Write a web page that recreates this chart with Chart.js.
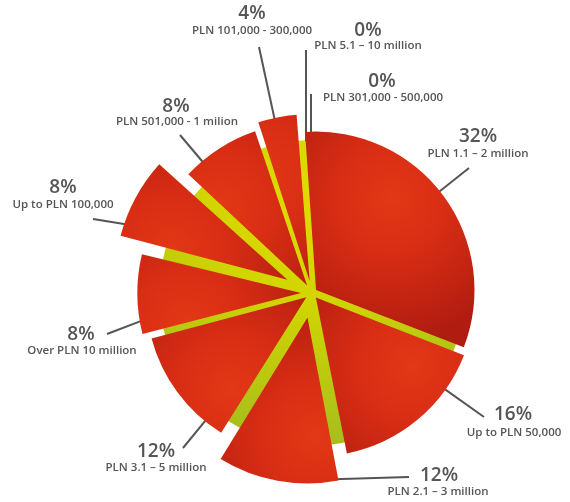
<!DOCTYPE html>
<html>
<head>
<meta charset="utf-8">
<script src="https://cdn.jsdelivr.net/npm/chart.js@4.4.1/dist/chart.umd.min.js"></script>
<style>
  html, body { margin: 0; padding: 0; background: #fff; }
  #wrap { position: relative; width: 570px; height: 502px; }
</style>
</head>
<body>
<div id="wrap"><canvas id="pie"></canvas></div>
<script>
// ── DATA ─────────────────────────────────────────
const categories = [
  'PLN 1.1 – 2 million',
  'Up to PLN 50,000',
  'PLN 2.1 – 3 million',
  'PLN 3.1 – 5 million',
  'Over PLN 10 million',
  'Up to PLN 100,000',
  'PLN 501,000 - 1 milion',
  'PLN 101,000 - 300,000',
  'PLN 5.1 – 10 million',
  'PLN 301,000 - 500,000'
];
const shares = [32, 16, 12, 12, 8, 8, 8, 4, 0, 0];

// ── STYLE ────────────────────────────────────────
// chart.js arc offset (draw translation is offset / 4)
const SLICE_OFFSETS = [20, 24, 100, 28, 44, 112, 36, 48, 0, 0];
const RADIUS = 158;
const DISK_RADIUS = 153;
const ROTATION = -4;
const TEXT_COLOR = '#555';
const FONT = "'Open Sans', 'DejaVu Sans', sans-serif";

// label text centres and leader line ends, per slice
const LABEL_LAYOUT = [
  { pct: [478, 137], sub: [478, 154], end: [469, 168] },
  { pct: [513, 415], sub: [514, 433], end: [484, 417] },
  { pct: [439, 476], sub: [438, 492], end: [409, 477] },
  { pct: [156, 452], sub: [156, 468], end: [183, 448] },
  { pct: [81, 335],  sub: [82, 351],  end: [107, 334] },
  { pct: [63, 188],  sub: [63, 205],  end: [93, 219] },
  { pct: [176, 107], sub: [177, 122], end: [180, 135] },
  { pct: [252, 14],  sub: [252, 31],  end: [259, 47] },
  { pct: [368, 31],  sub: [368, 46],  end: [306, 50] },
  { pct: [382, 82],  sub: [383, 98],  end: [311, 94] }
];

function sliceColor(ctx) {
  const chart = ctx.chart;
  const area = chart.chartArea;
  if (!area) return '#D22A14';
  const cx = (area.left + area.right) / 2;
  const cy = (area.top + area.bottom) / 2;
  const total = shares.reduce((a, b) => a + b, 0);
  const before = shares.slice(0, ctx.dataIndex).reduce((a, b) => a + b, 0);
  const start = (ROTATION - 90) * Math.PI / 180 + before / total * Math.PI * 2;
  const mid = start + shares[ctx.dataIndex] / total * Math.PI;
  const gx = cx + Math.cos(mid - 0.25) * RADIUS * 0.75;
  const gy = cy + Math.sin(mid - 0.25) * RADIUS * 0.75;
  const g = chart.ctx.createRadialGradient(gx, gy, 0, gx, gy, RADIUS * 0.9);
  g.addColorStop(0, '#E33816');
  g.addColorStop(0.4, '#D72D14');
  g.addColorStop(1, '#B01C10');
  return g;
}

// yellow-green disc showing through the gaps
const diskPlugin = {
  id: 'disk',
  beforeDatasetsDraw(chart) {
    const arc = chart.getDatasetMeta(0).data[0];
    if (!arc) return;
    const ctx = chart.ctx;
    const g = ctx.createRadialGradient(arc.x, arc.y - 100, 0, arc.x, arc.y - 100, 260);
    g.addColorStop(0, '#E0DB00');
    g.addColorStop(0.4, '#D2D500');
    g.addColorStop(1, '#A4BD1E');
    ctx.save();
    ctx.fillStyle = g;
    ctx.beginPath();
    ctx.arc(arc.x, arc.y, DISK_RADIUS, 0, Math.PI * 2);
    ctx.fill();

    // leader lines, tucked under the slices
    ctx.strokeStyle = TEXT_COLOR;
    ctx.lineWidth = 2;
    chart.getDatasetMeta(0).data.forEach((el, i) => {
      const end = LABEL_LAYOUT[i].end;
      let sx, sy;
      if (shares[i] === 0) {
        sx = end[0];
        sy = el.y - Math.sqrt(DISK_RADIUS * DISK_RADIUS - Math.pow(end[0] - el.x, 2)) + 1;
      } else {
        const alpha = el.endAngle - el.startAngle;
        const half = (el.startAngle + el.endAngle) / 2;
        const t = (el.options.offset || 0) / 4;
        const fix = 1 - Math.sin(Math.min(Math.PI, alpha));
        const r = el.outerRadius + t * fix - 3;
        const ax = el.x + Math.cos(half) * t;
        const ay = el.y + Math.sin(half) * t;
        const phi = Math.atan2(end[1] - ay, end[0] - ax);
        const m = Math.min(5 * Math.PI / 180, alpha / 4);
        let d = ((phi - el.startAngle) % (Math.PI * 2) + Math.PI * 2) % (Math.PI * 2);
        if (d < m || d > alpha - m) {
          d = (d > alpha - m && d - alpha < Math.PI * 2 - d - alpha) ? alpha - m : m;
          if (d < m) d = m;
        }
        const ang = el.startAngle + d;
        sx = ax + Math.cos(ang) * r;
        sy = ay + Math.sin(ang) * r;
      }
      ctx.beginPath();
      ctx.moveTo(sx, sy);
      ctx.lineTo(end[0], end[1]);
      ctx.stroke();
    });
    ctx.restore();
  }
};

const labelPlugin = {
  id: 'sliceLabels',
  afterDraw(chart) {
    const ctx = chart.ctx;
    ctx.save();
    ctx.fillStyle = TEXT_COLOR;
    ctx.textAlign = 'center';
    ctx.textBaseline = 'middle';
    LABEL_LAYOUT.forEach((pos, i) => {
      ctx.font = '600 19px ' + FONT;
      ctx.fillText(shares[i] + '%', pos.pct[0], pos.pct[1]);
      ctx.font = '600 11.5px ' + FONT;
      ctx.fillText(categories[i], pos.sub[0], pos.sub[1]);
    });
    ctx.restore();
  }
};

const chart = new Chart(document.getElementById('pie').getContext('2d'), {
  type: 'pie',
  data: {
    labels: categories,
    datasets: [{
      data: shares,
      backgroundColor: sliceColor,
      borderWidth: 0,
      offset: SLICE_OFFSETS
    }]
  },
  options: {
    responsive: true,
    maintainAspectRatio: false,
    animation: false,
    events: [],
    radius: RADIUS,
    rotation: ROTATION,
    layout: { padding: { left: 54, top: 84, right: 0, bottom: 0 } },
    plugins: {
      legend: { display: false },
      tooltip: { enabled: false }
    }
  },
  plugins: [diskPlugin, labelPlugin]
});
</script>
</body>
</html>
